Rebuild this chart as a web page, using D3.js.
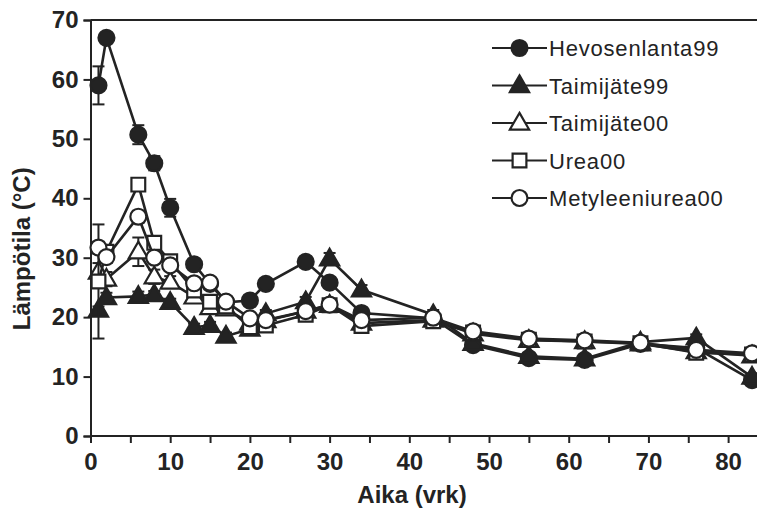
<!DOCTYPE html>
<html>
<head>
<meta charset="utf-8">
<script src="https://cdn.jsdelivr.net/npm/d3@7/dist/d3.min.js"></script>
<style>
  html, body { margin: 0; padding: 0; background: #fff; }
  svg { display: block; }
</style>
</head>
<body>
<svg id="chart" width="757" height="509"></svg>
<script>
// Sampling days (vrk)
const days = [1, 2, 6, 8, 10, 13, 15, 17, 20, 22, 27, 30, 34, 43, 48, 55, 62, 69, 76, 83];

// Temperatures (°C) per series
const hevosenlanta99 = [59, 67, 50.7, 45.9, 38.4, 28.9, 25.6, 22.5, 22.8, 25.6, 29.3, 25.8, 20.7, 19.8, 15.3, 13.1, 12.8, 15.5, 14.8, 9.4];
const taimijate99    = [21.2, 23.3, 23.5, 23.8, 22.5, 18.3, 18.6, 16.8, 18.0, 20.6, 22.6, 29.8, 24.6, 20.4, 15.6, 13.4, 13.0, 15.8, 16.5, 9.9];
const taimijate00    = [27.6, 26.4, 31.0, 26.8, 25.9, 23.4, 21.6, 21.4, 19.0, 19.4, 21.0, 22.0, 19.0, 19.5, 17.2, 16.1, 15.9, 15.5, 14.2, 13.5];
const urea00         = [26.0, 31.0, 42.3, 32.5, 29.4, 24.5, 22.6, 21.8, 18.3, 18.6, 20.4, 22.0, 18.5, 19.3, 17.4, 16.2, 15.9, 15.6, 14.0, 13.7];
const metyleeniurea00= [31.7, 30.1, 36.9, 30.0, 28.7, 25.7, 25.8, 22.6, 19.8, 19.5, 21.0, 22.1, 19.5, 19.9, 17.6, 16.4, 16.1, 15.7, 14.5, 13.9];

// Standard errors (°C)
const hevosenlanta99Err = [3.2, 0.7, 1.6, 1.2, 1.5, 0.8, 0.6, 0.5, 0.5, 0.6, 0.6, 0.6, 0.6, 0.6, 0.6, 0.5, 0.5, 0.5, 0.5, 0.5];
const taimijate99Err    = [0.6, 0.8, 0.8, 0.6, 0.6, 0.6, 0.6, 0.6, 0.6, 0.6, 0.8, 1.0, 0.8, 0.8, 0.6, 0.5, 0.5, 0.5, 0.6, 0.5];
const taimijate00Err    = [1.5, 1.2, 2.4, 1.2, 1.0, 1.0, 0.8, 0.6, 0.6, 0.6, 0.6, 0.6, 0.6, 0.6, 0.5, 0.5, 0.5, 0.5, 0.5, 0.5];
const urea00Err         = [9.6, 1.0, 0.8, 1.0, 1.0, 0.8, 0.8, 0.6, 0.6, 0.6, 0.6, 0.6, 0.6, 0.6, 0.5, 0.5, 0.5, 0.5, 0.5, 0.5];
const metyleeniurea00Err= [1.0, 1.0, 1.0, 0.8, 0.8, 0.6, 0.6, 0.6, 0.6, 0.6, 0.6, 0.6, 0.6, 0.6, 0.5, 0.5, 0.5, 0.5, 0.5, 0.5];

const seriesNames = ["Hevosenlanta99", "Taimijäte99", "Taimijäte00", "Urea00", "Metyleeniurea00"];
const seriesValues = [hevosenlanta99, taimijate99, taimijate00, urea00, metyleeniurea00];
const seriesErrors = [hevosenlanta99Err, taimijate99Err, taimijate00Err, urea00Err, metyleeniurea00Err];
const seriesSymbols = ["circle", "triangle", "triangle", "square", "circle"];
const seriesFilled = [true, true, false, false, false];

const yTicks = [0, 10, 20, 30, 40, 50, 60, 70];
const xLabelTicks = [0, 10, 20, 30, 40, 50, 60, 70, 80];
const xMinorTicks = d3.range(0, 85, 5);

const ink = "#232323";
const font = "'Liberation Sans', Arial, sans-serif";
const svg = d3.select("#chart");

const x = d3.scaleLinear().domain([0, 84]).range([90.5, 760]);
const y = d3.scaleLinear().domain([0, 70]).range([436, 20]);

// plot frame (top edge)
svg.append("line")
  .attr("x1", x(0)).attr("x2", 757)
  .attr("y1", y(70)).attr("y2", y(70))
  .attr("stroke", ink).attr("stroke-width", 2);

// y axis
const yAxis = svg.append("g")
  .attr("transform", `translate(${x(0)},0)`)
  .call(d3.axisLeft(y).tickValues(yTicks).tickSize(7).tickPadding(5).tickFormat(d3.format("d")));
// x axis
const xAxis = svg.append("g")
  .attr("transform", `translate(0,${y(0)})`)
  .call(d3.axisBottom(x).tickValues(xMinorTicks).tickSize(7).tickPadding(10)
    .tickFormat(d => xLabelTicks.includes(d) ? d : ""));

[yAxis, xAxis].forEach(g => {
  g.select(".domain").attr("stroke", ink).attr("stroke-width", 2);
  g.selectAll(".tick line").attr("stroke", ink).attr("stroke-width", 2);
  g.selectAll(".tick text")
    .attr("fill", ink)
    .style("font-family", font)
    .style("font-weight", "bold")
    .style("font-size", "24px");
});
xAxis.select(".domain").attr("d", `M${x(0)},0H757`);

// axis titles
svg.append("text")
  .attr("x", 412).attr("y", 503)
  .attr("text-anchor", "middle")
  .style("font-family", font)
  .style("font-weight", "bold").style("font-size", "24px")
  .attr("fill", ink)
  .text("Aika (vrk)");

svg.append("text")
  .attr("transform", `translate(30,${y(31.5)}) rotate(-90)`)
  .attr("text-anchor", "middle")
  .style("font-family", font)
  .style("font-weight", "bold").style("font-size", "24px")
  .attr("fill", ink)
  .text("Lämpötila (°C)");

function symbolPath(kind) {
  if (kind === "circle") return d3.symbol(d3.symbolCircle, 200)();
  if (kind === "square") return d3.symbol(d3.symbolSquare, 190)();
  return d3.symbol(d3.symbolTriangle, 160)();
}

const line = d3.line().x(d => x(d.day)).y(d => y(d.value));

seriesNames.forEach((name, i) => {
  const pts = days.map((day, j) => ({ day, value: seriesValues[i][j], err: seriesErrors[i][j] }));
  const g = svg.append("g").attr("class", "series");

  // error bars
  const eb = g.selectAll("g.err").data(pts).join("g").attr("class", "err");
  eb.append("line")
    .attr("x1", d => x(d.day)).attr("x2", d => x(d.day))
    .attr("y1", d => y(d.value + d.err)).attr("y2", d => y(d.value - d.err))
    .attr("stroke", ink).attr("stroke-width", 2);
  [1, -1].forEach(s => {
    eb.append("line")
      .attr("x1", d => x(d.day) - 6).attr("x2", d => x(d.day) + 6)
      .attr("y1", d => y(d.value + s * d.err)).attr("y2", d => y(d.value + s * d.err))
      .attr("stroke", ink).attr("stroke-width", 2);
  });

  g.append("path")
    .datum(pts)
    .attr("d", line)
    .attr("fill", "none")
    .attr("stroke", ink)
    .attr("stroke-width", 2.6);

  g.selectAll("path.mark").data(pts).join("path")
    .attr("class", "mark")
    .attr("d", symbolPath(seriesSymbols[i]))
    .attr("transform", d => `translate(${x(d.day)},${y(d.value) + (seriesSymbols[i] === "triangle" ? 1 : 0)})`)
    .attr("fill", seriesFilled[i] ? ink : "#fff")
    .attr("stroke", ink)
    .attr("stroke-width", 2.2);
});

// legend
const legend = svg.append("g").attr("transform", "translate(492,48)");
seriesNames.forEach((name, i) => {
  const row = legend.append("g").attr("transform", `translate(0,${i * 37.5})`);
  row.append("line").attr("x1", 0).attr("x2", 55).attr("y1", 0).attr("y2", 0)
    .attr("stroke", ink).attr("stroke-width", 2);
  row.append("path")
    .attr("d", symbolPath(seriesSymbols[i]))
    .attr("transform", `translate(27.5,${seriesSymbols[i] === "triangle" ? 1 : 0})`)
    .attr("fill", seriesFilled[i] ? ink : "#fff")
    .attr("stroke", ink).attr("stroke-width", 2.2);
  row.append("text")
    .attr("x", 57).attr("y", 8)
    .style("font-family", font)
    .style("font-size", "22px")
    .style("letter-spacing", "0.8px")
    .attr("fill", ink)
    .text(name);
});
</script>
</body>
</html>
